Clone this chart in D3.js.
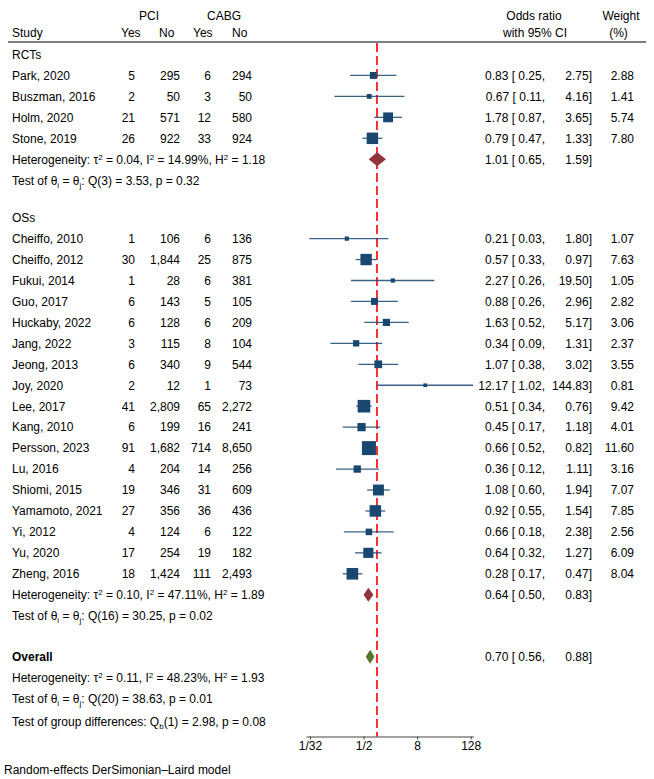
<!DOCTYPE html>
<html>
<head>
<meta charset="utf-8">
<script src="https://cdn.jsdelivr.net/npm/d3@7"></script>
<style>
  body { margin: 0; background: #fff; }
  text { font-family: "Liberation Sans", Arial, sans-serif; font-size: 12px; fill: #000; }
</style>
</head>
<body>
<div id="chart"></div>
<script>
// study level data
var groups = ["RCTs", "OSs"];
var studyNames = ["Park, 2020", "Buszman, 2016", "Holm, 2020", "Stone, 2019",
  "Cheiffo, 2010", "Cheiffo, 2012", "Fukui, 2014", "Guo, 2017", "Huckaby, 2022", "Jang, 2022",
  "Jeong, 2013", "Joy, 2020", "Lee, 2017", "Kang, 2010", "Persson, 2023", "Lu, 2016",
  "Shiomi, 2015", "Yamamoto, 2021", "Yi, 2012", "Yu, 2020", "Zheng, 2016"];
var studyGroup = [0, 0, 0, 0, 1, 1, 1, 1, 1, 1, 1, 1, 1, 1, 1, 1, 1, 1, 1, 1, 1];
var pciYes = [5, 2, 21, 26, 1, 30, 1, 6, 6, 3, 6, 2, 41, 6, 91, 4, 19, 27, 4, 17, 18];
var pciNo = [295, 50, 571, 922, 106, 1844, 28, 143, 128, 115, 340, 12, 2809, 199, 1682, 204, 346, 356, 124, 254, 1424];
var cabgYes = [6, 3, 12, 33, 6, 25, 6, 5, 6, 8, 9, 1, 65, 16, 714, 14, 31, 36, 6, 19, 111];
var cabgNo = [294, 50, 580, 924, 136, 875, 381, 105, 209, 104, 544, 73, 2272, 241, 8650, 256, 609, 436, 122, 182, 2493];
var oddsRatio = [0.83, 0.67, 1.78, 0.79, 0.21, 0.57, 2.27, 0.88, 1.63, 0.34, 1.07, 12.17, 0.51, 0.45, 0.66, 0.36, 1.08, 0.92, 0.66, 0.64, 0.28];
var ciLow = [0.25, 0.11, 0.87, 0.47, 0.03, 0.33, 0.26, 0.26, 0.52, 0.09, 0.38, 1.02, 0.34, 0.17, 0.52, 0.12, 0.60, 0.55, 0.18, 0.32, 0.17];
var ciHigh = [2.75, 4.16, 3.65, 1.33, 1.80, 0.97, 19.50, 2.96, 5.17, 1.31, 3.02, 144.83, 0.76, 1.18, 0.82, 1.11, 1.94, 1.54, 2.38, 1.27, 0.47];
var weight = [2.88, 1.41, 5.74, 7.80, 1.07, 7.63, 1.05, 2.82, 3.06, 2.37, 3.55, 0.81, 9.42, 4.01, 11.60, 3.16, 7.07, 7.85, 2.56, 6.09, 8.04];

// subgroup and overall summaries
var subOR = [1.01, 0.64], subLow = [0.65, 0.50], subHigh = [1.59, 0.83];
var subTau2 = ["0.04", "0.10"], subI2 = ["14.99", "47.11"], subH2 = ["1.18", "1.89"];
var subQdf = [3, 16], subQ = ["3.53", "30.25"], subP = ["0.32", "0.02"];
var overallOR = 0.70, overallLow = 0.56, overallHigh = 0.88;
var overallTau2 = "0.11", overallI2 = "48.23", overallH2 = "1.93";
var overallQdf = 20, overallQ = "38.63", overallP = "0.01";
var groupQdf = 1, groupQ = "2.98", groupP = "0.08";

var tickValues = [1 / 32, 1 / 2, 8, 128];
var tickLabels = ["1/32", "1/2", "8", "128"];

var W = 654, H = 779;
var svg = d3.select("#chart").append("svg").attr("width", W).attr("height", H);

// 行位置
var step = 20.95;
var rows = [];
var y = 54.5;
groups.forEach(function (g, gi) {
  rows.push({ type: "group", g: gi, y: y }); y += step;
  studyNames.forEach(function (s, i) {
    if (studyGroup[i] === gi) { rows.push({ type: "study", i: i, y: y }); y += step; }
  });
  rows.push({ type: "het", g: gi, y: y }); y += step;
  rows.push({ type: "test", g: gi, y: y }); y += step;
  y += gi === 0 ? 16.5 : 20;
});
var overallY = y; y += step;
var overallHetY = y; y += step;
var overallTestY = y; y += step + 2.6;
var groupTestY = y;
var axisY = 736.5;

var x = d3.scaleLog().base(2).domain([Math.pow(2, -5.3), Math.pow(2, 7.2)]).range([306, 306 + 12.5 * 13.39]);
var size = d3.scaleSqrt().domain([0, 11.6]).range([0, 14]);
var fmt2 = function (v) { return v.toFixed(2); };
var fmtN = d3.format(",");
var base = 4.3; // 字体中心 -> 基线

var navy = "#1a476f", maroon = "#90353b", green = "#55752f";

// header
var hdr = [
  ["PCI", 149, 20, "middle"], ["CABG", 224, 20, "middle"],
  ["Study", 12, 37, "start"], ["Yes", 121, 37, "start"], ["No", 159, 37, "start"],
  ["Yes", 193, 37, "start"], ["No", 232, 37, "start"],
  ["Odds ratio", 534, 20, "middle"], ["with 95% CI", 535, 37, "middle"],
  ["Weight", 621, 20, "middle"], ["(%)", 618.5, 37, "middle"]
];
svg.selectAll(".hdr").data(hdr).enter().append("text")
  .attr("x", function (d) { return d[1]; })
  .attr("y", function (d) { return d[2]; })
  .attr("text-anchor", function (d) { return d[3]; })
  .text(function (d) { return d[0]; });

svg.append("line").attr("x1", 8).attr("x2", 646).attr("y1", 42).attr("y2", 42)
  .style("stroke", "#000").style("stroke-width", 1.2);

// 无效线
svg.append("line")
  .attr("x1", x(1)).attr("x2", x(1)).attr("y1", 43).attr("y2", axisY)
  .style("stroke", "#ff0000").style("stroke-width", 1.6).style("stroke-dasharray", "9,4");

function hetText(yc, tau2, i2, h2) {
  var t = svg.append("text").attr("x", 12).attr("y", yc + base);
  t.append("tspan").text("Heterogeneity: \u03c4");
  t.append("tspan").attr("dy", -4).style("font-size", "8px").text("2");
  t.append("tspan").attr("dy", 4).text(" = " + tau2 + ", I");
  t.append("tspan").attr("dy", -4).style("font-size", "8px").text("2");
  t.append("tspan").attr("dy", 4).text(" = " + i2 + "%, H");
  t.append("tspan").attr("dy", -4).style("font-size", "8px").text("2");
  t.append("tspan").attr("dy", 4).text(" = " + h2);
}
function testText(yc, df, q, p) {
  var t = svg.append("text").attr("x", 12).attr("y", yc + base);
  t.append("tspan").text("Test of \u03b8");
  t.append("tspan").attr("dy", 3).style("font-size", "8px").text("i");
  t.append("tspan").attr("dy", -3).text(" = \u03b8");
  t.append("tspan").attr("dy", 3).style("font-size", "8px").text("j");
  t.append("tspan").attr("dy", -3).text(": Q(" + df + ") = " + q + ", p = " + p);
}
function esText(yc, or, lo, hi, w) {
  svg.append("text").attr("x", 545).attr("y", yc + base).attr("text-anchor", "end")
    .text(fmt2(or) + " [ " + fmt2(lo) + ",");
  svg.append("text").attr("x", 592).attr("y", yc + base).attr("text-anchor", "end")
    .text(fmt2(hi) + "]");
  if (w != null) {
    svg.append("text").attr("x", 634).attr("y", yc + base).attr("text-anchor", "end")
      .text(fmt2(w));
  }
}
function diamond(yc, lo, est, hi, color) {
  var h = 7;
  svg.append("path")
    .attr("d", "M" + x(lo) + "," + yc + "L" + x(est) + "," + (yc - h) + "L" + x(hi) + "," + yc +
      "L" + x(est) + "," + (yc + h) + "Z")
    .style("fill", color);
}

var cols = [[pciYes, 135], [pciNo, 180], [cabgYes, 211], [cabgNo, 252]];

rows.forEach(function (r) {
  if (r.type === "group") {
    svg.append("text").attr("x", 12).attr("y", r.y + base).text(groups[r.g]);
  } else if (r.type === "study") {
    var i = r.i;
    svg.append("text").attr("x", 12).attr("y", r.y + base).text(studyNames[i]);
    cols.forEach(function (c) {
      svg.append("text").attr("x", c[1]).attr("y", r.y + base).attr("text-anchor", "end")
        .text(fmtN(c[0][i]));
    });
    svg.append("line")
      .attr("x1", x(ciLow[i])).attr("x2", x(ciHigh[i])).attr("y1", r.y).attr("y2", r.y)
      .style("stroke", navy).style("stroke-width", 1.3).style("opacity", 0.85);
    var s = size(weight[i]);
    svg.append("rect")
      .attr("x", x(oddsRatio[i]) - s / 2).attr("y", r.y - s / 2)
      .attr("width", s).attr("height", s)
      .style("fill", navy);
    esText(r.y, oddsRatio[i], ciLow[i], ciHigh[i], weight[i]);
  } else if (r.type === "het") {
    hetText(r.y, subTau2[r.g], subI2[r.g], subH2[r.g]);
    diamond(r.y, subLow[r.g], subOR[r.g], subHigh[r.g], maroon);
    esText(r.y, subOR[r.g], subLow[r.g], subHigh[r.g], null);
  } else if (r.type === "test") {
    testText(r.y, subQdf[r.g], subQ[r.g], subP[r.g]);
  }
});

// overall
svg.append("text").attr("x", 12).attr("y", overallY + base).style("font-weight", "bold").text("Overall");
diamond(overallY, overallLow, overallOR, overallHigh, green);
esText(overallY, overallOR, overallLow, overallHigh, null);
hetText(overallHetY, overallTau2, overallI2, overallH2);
testText(overallTestY, overallQdf, overallQ, overallP);

var gt = svg.append("text").attr("x", 12).attr("y", groupTestY + base);
gt.append("tspan").text("Test of group differences: Q");
gt.append("tspan").attr("dy", 3).style("font-size", "8px").text("b");
gt.append("tspan").attr("dy", -3).text("(" + groupQdf + ") = " + groupQ + ", p = " + groupP);

// x 轴
var axis = svg.append("g")
  .attr("transform", "translate(0," + axisY + ")")
  .call(d3.axisBottom(x).tickValues(tickValues)
    .tickFormat(function (d, i) { return tickLabels[i]; })
    .tickSize(3).tickSizeOuter(0).tickPadding(2));
axis.select(".domain").style("stroke", "#444");
axis.selectAll(".tick line").style("stroke", "#444");
axis.selectAll("text").style("font-family", "'Liberation Sans', Arial, sans-serif")
  .style("font-size", "12px").style("fill", "#000");

svg.append("text").attr("x", 4).attr("y", 774).text("Random-effects DerSimonian\u2013Laird model");
</script>
</body>
</html>
